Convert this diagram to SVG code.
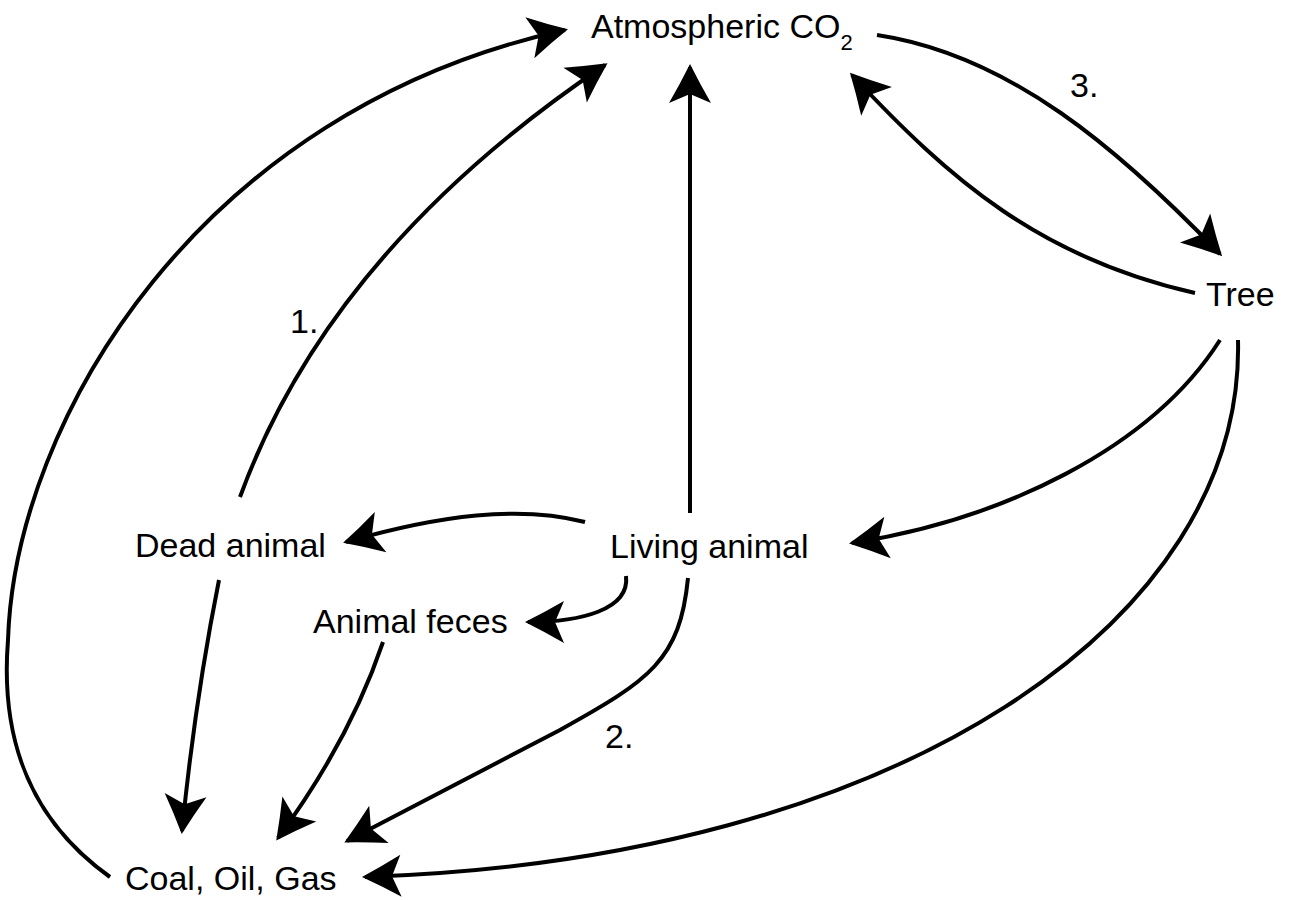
<svg xmlns="http://www.w3.org/2000/svg" width="1290" height="900" viewBox="0 0 1290 900">
<style>
text { font-family: "Liberation Sans", Arial, sans-serif; font-size: 34px; fill: #000; }
.sub { font-size: 22px; }
.c { fill: none; stroke: #000; stroke-width: 4; marker-end: url(#ah); }
</style>
<defs>
<marker id="ah" markerUnits="userSpaceOnUse" orient="auto" markerWidth="60" markerHeight="60" refX="0" refY="0" viewBox="-45 -30 60 60" overflow="visible">
<path d="M3,0 Q-17,-10 -36,-21 L-27,0 L-36,21 Q-17,10 3,0 Z" fill="#000"/>
</marker>
</defs>
<rect width="1290" height="900" fill="#fff"/>
<g id="connectors">
<path class="c" d="M110,877 C30,820 0,740 8,640 C15,420 200,110 565,30"/>
<path class="c" d="M240,497 Q330,250 605,65"/>
<path class="c" d="M690,513 L690,67"/>
<path class="c" d="M877,35 C1010,55 1120,150 1220,254"/>
<path class="c" d="M1195,293 C1040,258 950,180 852,75"/>
<path class="c" d="M1220,340 C1150,450 1000,520 852,543"/>
<path class="c" d="M1238,340 C1245,620 900,860 365,877"/>
<path class="c" d="M585,522 C520,505 440,515 346,542"/>
<path class="c" d="M626,576 C630,610 580,622 528,622"/>
<path class="c" d="M688,578 C680,660 650,680 560,730 L347,841"/>
<path class="c" d="M219,580 Q195,700 182,831"/>
<path class="c" d="M383,642 Q350,740 278,838"/>
</g>
<g id="node-atmospheric-co2"><text x="591" y="38">Atmospheric CO<tspan class="sub" dy="12">2</tspan></text></g>
<g id="node-tree"><text x="1206" y="306">Tree</text></g>
<g id="node-dead-animal"><text x="135" y="557">Dead animal</text></g>
<g id="node-living-animal"><text x="610" y="558">Living animal</text></g>
<g id="node-animal-feces"><text x="313" y="633">Animal feces</text></g>
<g id="node-coal-oil-gas"><text x="125" y="890">Coal, Oil, Gas</text></g>
<g id="labels">
<text x="290" y="333">1.</text>
<text x="605" y="748">2.</text>
<text x="1070" y="97">3.</text>
</g>
</svg>
